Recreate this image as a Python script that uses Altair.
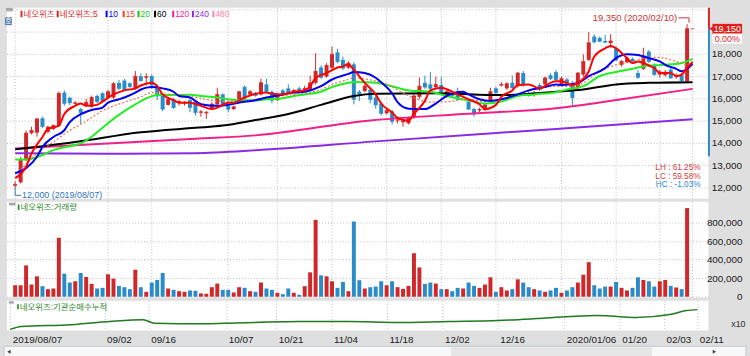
import altair as alt
import pandas as pd

# ------------------------------------------------------------------ data
# daily candles, trading-day index 0 = 2019/08/07 ... 124 = 2020/02/11
open_ = [12100, 12250, 13250, 14460, 14480, 15130, 14520, 14650, 14800, 16280,
         16050, 15780, 15540, 15700, 15640, 16130, 16250, 16050, 16060, 16720,
         16820, 16700, 16470, 17020, 16950, 17020, 16530, 16130, 15730, 15980,
         15850, 15800, 15940, 15880, 15380, 15350, 15540, 15760, 16200, 15690,
         15540, 15880, 16530, 16200, 16250, 16200, 16650, 16320, 15940, 16380,
         16470, 16300, 16470, 16350, 16380, 16720, 17410, 17000, 17400, 18090,
         17750, 17400, 17550, 16320, 16350, 16420, 16060, 15790, 15350, 15440,
         15030, 14950, 14900, 15170, 16090, 16720, 16650, 16530, 16620, 16090,
         16200, 16350, 16200, 15880, 15540, 15480, 15500, 15880, 16470, 16600,
         16470, 16720, 16570, 17160, 16250, 16200, 16620, 16650, 17060, 17200,
         16650, 16870, 16720, 16470, 17090, 17750, 18800, 18740, 18600, 18500,
         18270, 17530, 17650, 17800, 17160, 17350, 18120, 17530, 17090, 17060,
         17310, 17000, 17060, 16800, 19150]
high = [12300, 13400, 14580, 14750, 15150, 15200, 14800, 14850, 16320, 16380,
        16100, 15900, 15600, 16000, 16150, 16200, 16300, 16400, 16750, 16850,
        16900, 16750, 17250, 17150, 17150, 17100, 16650, 16200, 16050, 16050,
        15950, 15900, 16000, 15950, 15500, 15450, 15850, 16500, 16250, 15750,
        15700, 16350, 16600, 16400, 16300, 16900, 16900, 16380, 16250, 16450,
        16650, 16450, 16550, 16600, 17050, 18050, 17500, 17600, 18350, 18250,
        17900, 17700, 17650, 16400, 16650, 16500, 16150, 15850, 15550, 15500,
        15150, 15100, 15200, 16250, 16950, 17050, 17200, 17000, 16970, 16400,
        16300, 16500, 16350, 15950, 15600, 15600, 15800, 16500, 16550, 16750,
        16750, 17050, 17200, 17250, 16350, 16350, 16700, 17000, 17150, 17300,
        17000, 16950, 16800, 17200, 18000, 19000, 18900, 18800, 18880, 18900,
        18350, 17750, 17900, 17850, 17300, 18300, 18200, 17600, 17300, 17300,
        17400, 17150, 17150, 19350, 19150]
low = [12000, 12200, 13200, 14400, 14300, 14700, 14450, 14600, 14750, 15690,
       15720, 15700, 14880, 15650, 15600, 15800, 15850, 16000, 16000, 16400,
       16380, 16500, 16400, 16780, 16600, 16450, 15950, 15450, 15700, 15550,
       15700, 15700, 15400, 15250, 15200, 15100, 15500, 15700, 15650, 15400,
       15500, 15800, 15950, 16150, 16100, 16150, 16250, 15800, 15900, 16150,
       16250, 16250, 16300, 16300, 16350, 16650, 16900, 16950, 17350, 17600,
       17300, 17350, 15750, 15900, 16300, 15800, 15550, 15250, 15300, 14850,
       14900, 14750, 14850, 15100, 16000, 16450, 16400, 16450, 16250, 16050,
       16100, 15950, 16150, 15500, 15200, 15400, 15450, 15850, 16200, 16550,
       16400, 16450, 16500, 16550, 16100, 16100, 16350, 16600, 16850, 16800,
       16600, 16600, 15700, 16400, 17000, 17700, 18500, 18550, 18500, 18300,
       17700, 17450, 17600, 17650, 16900, 17300, 17600, 17050, 16950, 17000,
       16900, 16900, 16750, 16750, 19150]
close = [12150, 13250, 14460, 14580, 15100, 14760, 14730, 14800, 16250, 15800,
         15830, 15820, 15390, 15850, 16060, 15880, 15880, 16320, 16680, 16470,
         16420, 16550, 17020, 16820, 17000, 16620, 16130, 15540, 15980, 15610,
         15880, 15850, 15610, 15390, 15420, 15400, 15760, 16200, 15730, 15540,
         15640, 16320, 16030, 16320, 16150, 16720, 16320, 15940, 16200, 16200,
         16280, 16380, 16320, 16470, 16720, 17240, 16970, 17500, 18000, 17680,
         17380, 17600, 15980, 16230, 16570, 15980, 15730, 15350, 15470, 14990,
         15060, 15000, 15140, 16130, 16570, 16530, 16470, 16650, 16320, 16320,
         16150, 15980, 16250, 15540, 15320, 15520, 15730, 16320, 16280, 16650,
         16680, 16500, 17160, 16620, 16150, 16250, 16420, 16940, 16910, 16870,
         16910, 16700, 16060, 17160, 17680, 18520, 18560, 18590, 18550, 18600,
         17750, 17680, 17830, 17700, 16970, 17930, 17680, 17090, 17210, 17200,
         16940, 17020, 16820, 19150, 19150]
volume_k = [124, 124, 338, 132, 220, 114, 82, 89, 636, 249,
            153, 167, 256, 213, 139, 89, 96, 242, 196, 117,
            103, 82, 292, 103, 53, 153, 181, 256, 89, 75,
            60, 53, 68, 64, 36, 32, 103, 142, 75, 75,
            46, 103, 96, 60, 53, 153, 89, 75, 43, 28,
            89, 43, 21, 114, 263, 829, 231, 220, 167, 96,
            160, 60, 811, 178, 89, 103, 110, 167, 124, 167,
            103, 85, 117, 469, 316, 139, 153, 142, 82, 82,
            60, 96, 89, 153, 117, 96, 132, 210, 53, 103,
            68, 82, 188, 153, 103, 82, 68, 53, 68, 96,
            43, 68, 103, 153, 238, 373, 124, 89, 110, 110,
            160, 96, 68, 96, 210, 181, 167, 110, 167, 181,
            117, 100, 82, 956, 0]

x_tick_idx = [0, 17, 25, 39, 48, 58, 68, 78, 88, 100, 110, 118, 124]
x_tick_lbl = ["2019/08/07", "09/02", "09/16", "10/07", "10/21", "11/04",
              "11/18", "12/02", "12/16", "2020/01/06", "01/20", "02/03", "02/11"]
price_grid = [12000, 13000, 14000, 15000, 16000, 17000, 18000, 19000, 20000]
price_lbl = ["12,000", "13,000", "14,000", "15,000", "16,000", "17,000", "18,000", "", ""]
vol_ticks = [0, 200000, 400000, 600000, 800000]

# moving-average lines: (trading-day index, price)
ma5 = [(0, 12440), (2, 12950), (3, 13550), (5, 14290), (6, 14650), (8, 14800), (9, 15320),
       (11, 15690), (12, 15790), (13, 15690), (15, 15730), (16, 15880), (18, 16200), (20, 16380),
       (22, 16470), (23, 16600), (25, 16720), (26, 16570), (27, 16200), (29, 15940), (30, 15830),
       (32, 15830), (34, 15690), (36, 15540), (37, 15610), (39, 15830), (40, 15830), (42, 16060),
       (44, 16230), (46, 16280), (47, 16230), (49, 16200), (51, 16320), (53, 16380), (54, 16570),
       (55, 16940), (57, 17160), (59, 17410), (60, 17460), (61, 17560), (62, 17310), (64, 16720),
       (66, 16200), (67, 15790), (69, 15390), (70, 15140), (72, 15020), (73, 15320), (75, 15910),
       (76, 16380), (78, 16500), (79, 16430), (81, 16200), (83, 15980), (85, 15760), (86, 15540),
       (88, 15730), (89, 16090), (91, 16380), (92, 16620), (94, 16650), (96, 16470), (98, 16720),
       (99, 16790), (100, 16790), (102, 16620), (103, 16720), (105, 17240), (106, 17900),
       (108, 18270), (109, 18370), (110, 18270), (112, 17830), (113, 17610), (114, 17680),
       (116, 17500), (117, 17380), (118, 17160), (120, 17160), (121, 17020), (122, 17090),
       (123, 17400), (124, 17650)]
ma10 = [(0, 12660), (2, 12890), (4, 13400), (5, 13840), (7, 14290), (9, 14590), (10, 14960),
        (12, 15310), (14, 15500), (16, 15610), (17, 15830), (19, 15980), (20, 16060), (22, 16280),
        (23, 16420), (25, 16530), (27, 16470), (29, 16320), (30, 16130), (32, 16060), (34, 15760),
        (37, 15690), (39, 15730), (41, 15830), (44, 15940), (46, 16060), (49, 16200), (51, 16280),
        (53, 16320), (56, 16570), (58, 16870), (61, 17120), (62, 17210), (64, 17160), (66, 16950),
        (67, 16750), (69, 16250), (70, 15850), (72, 15560), (75, 15540), (77, 15790), (79, 16130),
        (82, 16320), (83, 16200), (85, 15980), (87, 15910), (89, 15980), (92, 16200), (94, 16380),
        (97, 16530), (99, 16650), (100, 16620), (103, 16720), (105, 17020), (108, 17380),
        (110, 17830), (112, 18000), (114, 17970), (116, 17830), (118, 17680), (119, 17530),
        (121, 17350), (122, 17240), (124, 17560)]
ma15 = [(1, 12810), (4, 13550), (7, 14060), (10, 14580), (13, 15000), (16, 15470), (20, 15850),
        (23, 16090), (25, 16280), (27, 16230), (30, 16170), (32, 16110), (37, 15910), (41, 15880),
        (46, 16060), (51, 16200), (56, 16420), (58, 16650), (61, 16870), (62, 16940), (65, 16850),
        (68, 16650), (72, 16150), (76, 15850), (79, 15870), (83, 15980), (86, 15880), (90, 16060),
        (94, 16350), (97, 16530), (99, 16560), (102, 16550), (104, 16720), (107, 17240),
        (110, 17530), (113, 17680), (116, 17860), (118, 17860), (121, 17680), (123, 17530),
        (124, 17680)]
ma20 = [(0, 13280), (2, 13280), (5, 13480), (7, 13700), (10, 13870), (12, 14000), (14, 14300),
        (16, 14700), (18, 15100), (20, 15450), (22, 15750), (24, 16020), (26, 16170), (29, 16170),
        (32, 16180), (34, 16130), (37, 16060), (39, 15980), (41, 15940), (44, 15940), (46, 15980),
        (49, 16030), (51, 16130), (53, 16200), (56, 16320), (58, 16530), (61, 16720), (62, 16760),
        (64, 16750), (66, 16720), (69, 16570), (72, 16380), (76, 16320), (79, 16130), (83, 15940),
        (86, 15790), (89, 15880), (92, 16130), (95, 16200), (99, 16300), (101, 16420), (104, 16570),
        (107, 17020), (110, 17210), (113, 17350), (116, 17500), (119, 17530), (122, 17610),
        (124, 17800)]
ma60 = [(0, 13730), (11, 14060), (23, 14500), (33, 14700), (38, 14800), (44, 15050), (50, 15320),
        (56, 15730), (62, 16130), (66, 16230), (77, 16250), (89, 16170), (99, 16320), (104, 16420),
        (110, 16650), (116, 16720), (124, 16750)]
ma120 = [(0, 13770), (33, 14210), (44, 14360), (65, 15030), (82, 15320), (99, 15580),
         (111, 15980), (124, 16450)]
ma240 = [(0, 13560), (20, 13530), (33, 13560), (44, 13690), (66, 14090), (99, 14650), (124, 15080)]

# institutional net-buying cumulative (panel units, no scale shown)
inst_cum = [(0, 1), (2, 4), (11, 5.7), (18, 9), (24, 10.7), (26, 7.3), (35, 6.7), (44, 8),
            (52, 9), (61, 9), (70, 8), (79, 9), (88, 10), (95, 12), (101, 14), (106, 15),
            (113, 13), (119, 16), (122, 20), (124, 21)]

side_bar_low = 13420  # lower end of the blue bar at the right edge of price panel

legend_labels = ["네오위즈", "네오위즈:5", "10", "15", "20", "60", "120", "240", "480"]

# ------------------------------------------------------------------ styles / layout
legend_colors = ["#d62f2f", "#e31a1a", "#0000ee", "#ff3a2a", "#10c810", "#000000",
                 "#ff1493", "#8a2be2", "#ff80b0"]
legend_x = [13.7, 50.3, 99.7, 117.0, 132.0, 148.7, 167.0, 187.0, 207.7]

UP, DOWN = "#d0282a", "#2a8bc9"
GRID = "#bdbdbd"
NUMFONT = "Liberation Sans Narrow, Liberation Sans, Noto Sans CJK KR, sans-serif"
KRFONT = "Liberation Sans, Noto Sans CJK KR, sans-serif"
GREEN_T = "#2e8b2e"

W = 709
PH, VH, IH = 193, 97, 30
P_DOM = [11511, 20089]
V_DOM = [-10667, 1024000]
I_DOM = [0, 30]
X_DOM = [-0.6, 126.0]
XS = alt.Scale(domain=X_DOM, nice=False, zero=False)
PS = alt.Scale(domain=P_DOM, nice=False, zero=False)
VS = alt.Scale(domain=V_DOM, nice=False, zero=False)
IS = alt.Scale(domain=I_DOM, nice=False, zero=False)
DIR = alt.Scale(domain=["up", "down"], range=[UP, DOWN])
px_per_price = PH / (P_DOM[1] - P_DOM[0])
px_per_day = W / (X_DOM[1] - X_DOM[0])

N = len(close)
candles = pd.DataFrame({"i": list(range(N)), "open": open_, "high": high, "low": low,
                        "close": close, "volume": [v * 1000 for v in volume_k]})
candles["dir"] = ["up" if c >= o else "down" for o, c in zip(open_, close)]
ONE = pd.DataFrame({"k": [0]})
xticks_df = pd.DataFrame({"i": x_tick_idx, "t": x_tick_lbl})
pgrid_df = pd.DataFrame({"p": price_grid, "t": price_lbl})


def X(field="i", axis=None):
    return alt.X(f"{field}:Q", scale=XS, title=None, axis=axis)


def PY(field):
    return alt.Y(f"{field}:Q", scale=PS, title=None, axis=None)


def COL():
    return alt.Color("dir:N", scale=DIR, legend=None)


def txt(text, x, y, color, size=9.5, font=NUMFONT, align="left"):
    return alt.Chart(ONE).mark_text(text=text, align=align, baseline="middle", color=color,
                                    fontSize=size, font=font).encode(
        x=alt.value(x), y=alt.value(y))


def box(x1, x2, y1, y2, fill, stroke=None):
    kw = dict(fill=fill, opacity=1)
    if stroke:
        kw.update(stroke=stroke, strokeWidth=1)
    return alt.Chart(ONE).mark_rect(**kw).encode(
        x=alt.value(x1), x2=alt.value(x2), y=alt.value(y1), y2=alt.value(y2))


def tri(shape, x, y, color="#404040", size=16):
    return alt.Chart(ONE).mark_point(shape=shape, filled=True, size=size, color=color,
                                     opacity=1).encode(x=alt.value(x), y=alt.value(y))


def vgrid(height):
    return alt.Chart(xticks_df).mark_rule(color=GRID, strokeWidth=1, strokeDash=[1, 2]).encode(
        x=X(), y=alt.value(0), y2=alt.value(height))


# ------------------------------------------------------------------ price panel
hgrid = alt.Chart(pgrid_df).mark_rule(color=GRID, strokeWidth=1, strokeDash=[1, 2]).encode(
    y=PY("p"), x=alt.value(0), x2=alt.value(W))
plabels = alt.Chart(pgrid_df).mark_text(align="right", baseline="middle", font=NUMFONT,
                                        fontSize=10, color="#202020").encode(
    y=PY("p"), x=alt.value(743), text="t:N")

base = alt.Chart(candles)
wick = base.mark_rule(strokeWidth=1).encode(x=X(), y=PY("low"), y2="high:Q", color=COL())
body = base.mark_bar(size=4).encode(x=X(), y=PY("open"), y2="close:Q", color=COL())
cap = base.mark_tick(orient="horizontal", size=4, thickness=1).encode(
    x=X(), y=PY("close"), color=COL())


def ma_line(pairs, color, width, dash=None):
    d = pd.DataFrame(pairs, columns=["i", "v"])
    kw = dict(color=color, strokeWidth=width, interpolate="monotone")
    if dash:
        kw["strokeDash"] = dash
    return alt.Chart(d).mark_line(**kw).encode(x=X(), y=PY("v"))


lines = [
    ma_line(ma240, "#8a2be2", 2),
    ma_line(ma120, "#f0208a", 2),
    ma_line(ma60, "#000000", 2),
    ma_line(ma20, "#22ee22", 2),
    ma_line(ma15, "#f07050", 1.2, [2, 2]),
    ma_line(ma10, "#0000f0", 2),
    ma_line(ma5, "#ff0000", 2),
]

# annotations for max high / min low
imax = max(range(N), key=lambda k: high[k])
imin = min(range(N), key=lambda k: low[k])
hi_txt = pd.DataFrame({"i": [imax], "p": [high[imax]],
                       "t": [f"{high[imax]:,} (2020/02/10)"]})
bx = imax + 0.35
by = high[imax] + 6.5 / px_per_price
hi_h = pd.DataFrame({"i": [bx - 11 / px_per_day], "i2": [bx], "p": [by]})
hi_v = pd.DataFrame({"i": [bx], "p": [by], "p2": [high[imax] + 1.5 / px_per_price]})
ANN_R = "#c83434"
ann_hi = [
    alt.Chart(hi_txt).mark_text(align="right", baseline="middle", dx=-10, dy=-6.5,
                                color=ANN_R, fontSize=9.5, font=NUMFONT).encode(
        x=X(), y=PY("p"), text="t:N"),
    alt.Chart(hi_h).mark_rule(color=ANN_R, strokeWidth=1).encode(x=X(), x2="i2:Q", y=PY("p")),
    alt.Chart(hi_v).mark_rule(color=ANN_R, strokeWidth=1).encode(x=X(), y=PY("p"), y2="p2:Q"),
]
ANN_B = "#2f72bf"
ly = low[imin] - 7.5 / px_per_price
lo_txt = pd.DataFrame({"i": [imin], "p": [low[imin]], "t": [f"{low[imin]:,} (2019/08/07)"]})
lo_v = pd.DataFrame({"i": [imin], "p": [low[imin]], "p2": [ly]})
lo_h = pd.DataFrame({"i": [imin], "i2": [imin + 6 / px_per_day], "p": [ly]})
ann_lo = [
    alt.Chart(lo_txt).mark_text(align="left", baseline="middle", dx=7, dy=7.5,
                                color=ANN_B, fontSize=9, font=NUMFONT).encode(
        x=X(), y=PY("p"), text="t:N"),
    alt.Chart(lo_v).mark_rule(color=ANN_B, strokeWidth=1).encode(x=X(), y=PY("p"), y2="p2:Q"),
    alt.Chart(lo_h).mark_rule(color=ANN_B, strokeWidth=1).encode(x=X(), x2="i2:Q", y=PY("p")),
]

# LH / LC / HC stats
lh = (max(high) / min(low) - 1) * 100
lc = (close[-1] / min(low) - 1) * 100
hc = (close[-1] / max(high) - 1) * 100
stats = [
    txt(f"LH : {lh:.2f}%", 701, 161.5, "#d23a3a", size=8.3, align="right"),
    txt(f"LC : {lc:.2f}%", 701, 170.5, "#d23a3a", size=8.3, align="right"),
    txt(f"HC : {hc:.2f}%", 701, 179.5, "#2a8ad0", size=8.3, align="right"),
]

# current price marker on the right
chg = (close[-1] / close[-2] - 1) * 100
last_df = pd.DataFrame({"p": [close[-1]], "t": [f"{close[-1]:,}"], "c": [f"{chg:.2f}%"]})
side_df = pd.DataFrame({"p": [P_DOM[1], close[-1]], "p2": [close[-1], side_bar_low],
                        "col": ["#e0201c", "#2a8bc9"]})
RECT = "M -1 -0.33 L 1 -0.33 L 1 0.33 L -1 0.33 Z"
marker = [
    alt.Chart(side_df).mark_rule(strokeWidth=2).encode(
        x=alt.value(709.5), y=PY("p"), y2="p2:Q", color=alt.Color("col:N", scale=None)),
    alt.Chart(last_df).mark_point(shape="triangle-left", filled=True, size=30,
                                  color="#e0201c", opacity=1).encode(x=alt.value(712), y=PY("p")),
    alt.Chart(last_df).mark_point(shape=RECT, filled=True, size=900, color="#e0201c",
                                  opacity=1, strokeWidth=0).encode(x=alt.value(728), y=PY("p")),
    alt.Chart(last_df).mark_point(shape=RECT, filled=True, size=900, color="#ffffff",
                                  opacity=1, strokeWidth=0, yOffset=10).encode(
        x=alt.value(728), y=PY("p")),
    alt.Chart(last_df).mark_text(color="white", fontSize=9, font=NUMFONT, align="center",
                                 baseline="middle").encode(x=alt.value(728), y=PY("p"), text="t:N"),
    alt.Chart(last_df).mark_text(color="#e0201c", fontSize=9, font=NUMFONT, align="center",
                                 baseline="middle", dy=10).encode(
        x=alt.value(728), y=PY("p"), text="c:N"),
]

# legend
legend = [box(-1, 6, 0, 3.5, "#a8a8a8"), box(-2, 5, 9.5, 17.5, "#5b7fae"),
          txt("호", 1.5, 13.5, "white", size=7, font=KRFONT, align="center")]
for lab, col, lx in zip(legend_labels, legend_colors, legend_x):
    legend.append(box(lx, lx + 2, 3, 9.5, col))
    legend.append(txt(lab, lx + 3, 6.3, col, size=8.5, font=KRFONT))

price = alt.layer(hgrid, vgrid(PH), plabels, wick, body, cap, *lines, *ann_hi, *ann_lo,
                  *stats, *marker, *legend).properties(width=W, height=PH)

# ------------------------------------------------------------------ volume panel
vol_axis = alt.Axis(orient="right", values=vol_ticks, grid=True, gridDash=[1, 2],
                    gridColor=GRID, ticks=False, domain=False, labelAlign="right",
                    labelPadding=34, labelFont=NUMFONT, labelFontSize=10,
                    labelColor="#202020", labelOverlap=False, title=None,
                    labelExpr="format(datum.value, ',')")
vbars = alt.Chart(candles).mark_bar(size=4).encode(
    x=X(),
    y=alt.Y("volume:Q", scale=VS, axis=vol_axis, title=None),
    y2=alt.datum(0), color=COL())
vol_lbl = [box(2, 8.7, 1, 3.7, "#a8a8a8"), box(11, 12.7, 2.7, 8.3, GREEN_T),
           txt("네오위즈:거래량", 13.7, 5.5, GREEN_T, size=8.5, font=KRFONT)]
volume = alt.layer(vgrid(VH), vbars, *vol_lbl).properties(width=W, height=VH)

# ------------------------------------------------------------------ institutional panel
xlabel_expr = "".join(f"datum.value == {v} ? '{t}' : " for v, t in zip(x_tick_idx, x_tick_lbl)) + "''"
bottom_axis = alt.Axis(orient="bottom", values=x_tick_idx, labelExpr=xlabel_expr, grid=True,
                       gridDash=[1, 2], gridColor=GRID, ticks=False, domain=False,
                       labelAlign="left", labelBaseline="top", labelPadding=4, labelOffset=2,
                       labelFont=NUMFONT, labelFontSize=10, labelColor="#202020",
                       labelOverlap=False, labelBound=False, labelFlush=False, title=None)
inst_df = pd.DataFrame(inst_cum, columns=["i", "v"])
iline = alt.Chart(inst_df).mark_line(color="#1f7a1f", strokeWidth=1.5,
                                     interpolate="monotone").encode(
    x=X(axis=bottom_axis), y=alt.Y("v:Q", scale=IS, axis=None, title=None))
inst_lbl = [box(2, 7, 0.5, 3, "#a8a8a8"), box(10.3, 12, 3.7, 8.7, GREEN_T),
            txt("네오위즈:기관순매수누적", 13, 6.3, GREEN_T, size=8.5, font=KRFONT),
            txt("x10", 732, 24, "#303030", size=9)]
scroll = [box(-3, 747, 46, 57, "#f8f8f8", "#b9c4d2"), box(449, 652, 47, 56, "#e6e6e6"),
          tri("triangle-left", 2, 51.5), tri("triangle-right", 715, 51.5)]
inst = alt.layer(iline, *inst_lbl, *scroll).properties(width=W, height=IH)

chart = alt.vconcat(price, volume, inst, spacing=3, bounds="flush").configure(
    background="#dfdfdf", padding={"left": 3, "top": 3, "right": 3, "bottom": 0}
).configure_view(fill="white", stroke=None)

chart.save("out.html", embed_options={"renderer": "svg", "actions": False})
